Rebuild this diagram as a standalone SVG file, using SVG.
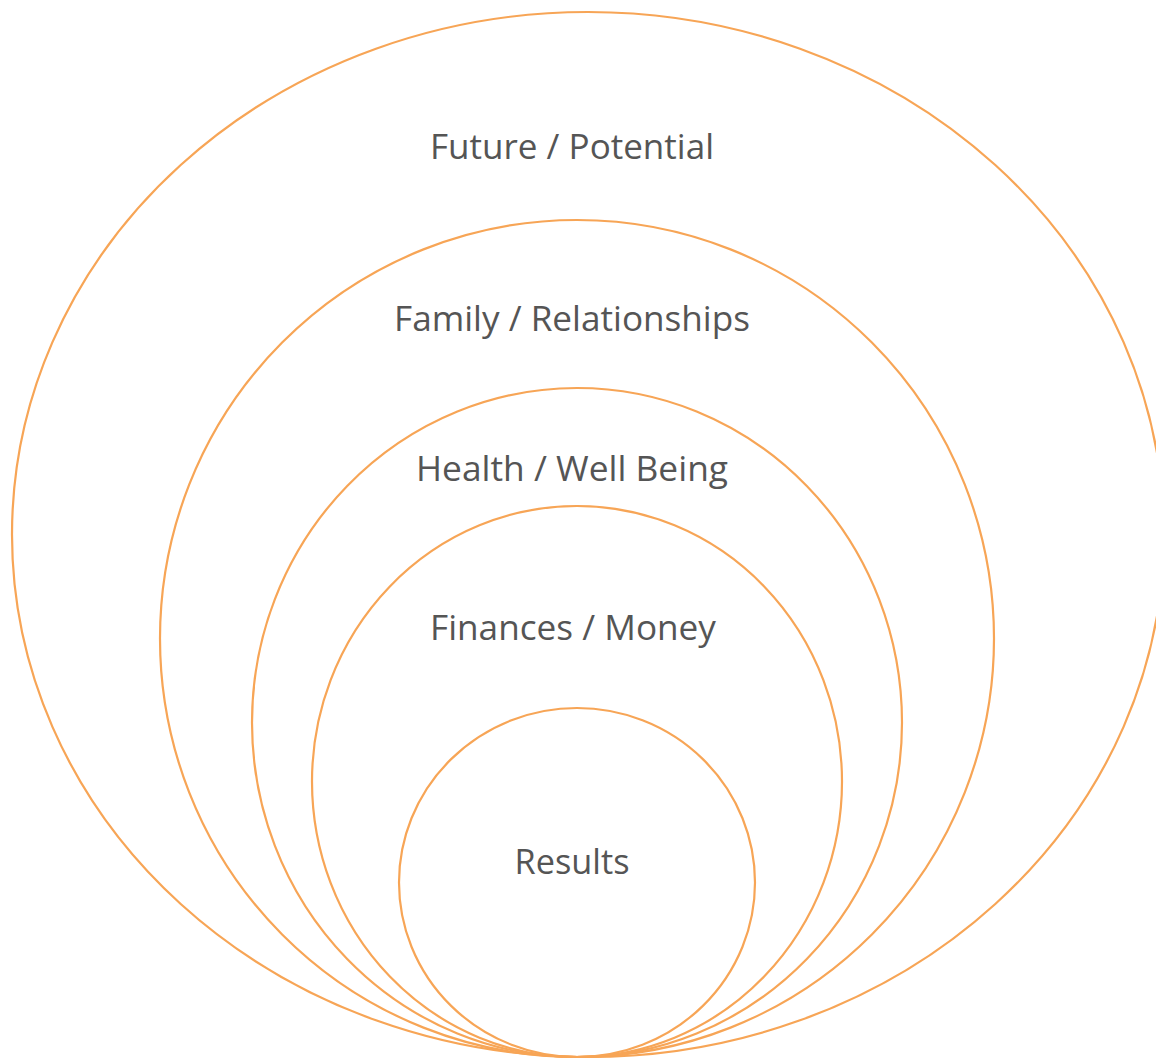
<svg xmlns="http://www.w3.org/2000/svg" width="1156" height="1061" viewBox="0 0 1156 1061">
<style>
.ring{fill:none;stroke:#F7A556;stroke-width:2.2}
.lbl{font-family:"Open Sans","Liberation Sans",sans-serif;font-size:35px;fill:#555555;text-anchor:middle}
</style>
<rect width="1156" height="1061" fill="#ffffff"/>
<g id="future"><ellipse class="ring" cx="588" cy="534.5" rx="576" ry="522.5"/><text class="lbl" x="572" y="159" textLength="284" lengthAdjust="spacingAndGlyphs">Future / Potential</text></g>
<g id="family"><ellipse class="ring" cx="577" cy="638.5" rx="417" ry="418.5"/><text class="lbl" x="572" y="331" textLength="356" lengthAdjust="spacingAndGlyphs">Family / Relationships</text></g>
<g id="health"><ellipse class="ring" cx="577" cy="722.5" rx="325" ry="334.5"/><text class="lbl" x="572" y="481" textLength="312" lengthAdjust="spacingAndGlyphs">Health / Well Being</text></g>
<g id="finances"><ellipse class="ring" cx="577" cy="781.5" rx="265" ry="275.5"/><text class="lbl" x="573" y="640" textLength="286" lengthAdjust="spacingAndGlyphs">Finances / Money</text></g>
<g id="results"><ellipse class="ring" cx="577" cy="882.5" rx="178" ry="174.5"/><text class="lbl" x="572" y="874" textLength="115" lengthAdjust="spacingAndGlyphs">Results</text></g>
</svg>
